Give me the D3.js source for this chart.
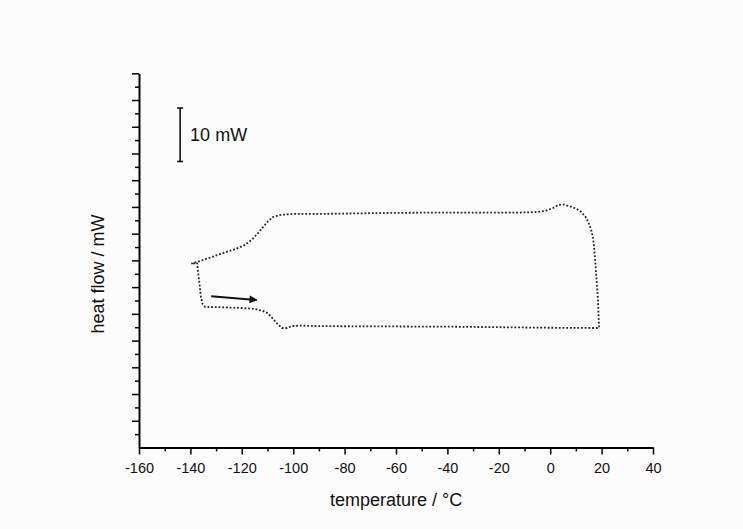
<!DOCTYPE html>
<html>
<head>
<meta charset="utf-8">
<script src="https://cdn.jsdelivr.net/npm/d3@7"></script>
<style>
body { margin: 0; background: #fcfcfc; }
svg { display: block; font-family: "Liberation Sans", Arial, sans-serif; }
</style>
</head>
<body>
<svg id="chart"></svg>
<script>
// DSC loop: temperature in °C, heat flow in mW (arbitrary offset)
const temperature = [-137.4, -136.85, -136.3, -135.9, -135.3, -134.3, -128.5, -120.7, -115.5, -112.1,
  -109.8, -107.9, -106.3, -104.4, -102.4, -100.5, -97.4, -89.6, -39, 0, 18.6, 19.0,
  18.9, 18.6, 18.2, 17.8, 17.2, 16.7, 15.9, 14.9, 13.7, 12.0, 10.0, 7.7, 5.4, 3.4, 1.1,
  -1.6, -4.7, -11.8, -39, -58.4, -89.6, -100, -105.1, -107.9, -109.8, -111.8, -113.7,
  -116.0, -118.8, -122, -125.9, -130.4, -134.3, -137.4, -139.6, -139.0, -138.2];
const heatFlow = [34.6, 32.2, 29.9, 28.1, 26.9, 26.3, 26.25, 26.1, 25.95, 25.6,
  25.1, 24.1, 23.2, 22.35, 22.35, 22.7, 22.8, 22.7, 22.6, 22.4, 22.35, 22.4,
  23.7, 27.5, 30.3, 33.1, 36.9, 39.1, 40.8, 42.1, 43.2, 44.1, 44.7, 45.1, 45.45, 45.4, 44.8,
  44.3, 44.05, 43.95, 43.95, 43.9, 43.7, 43.7, 43.5, 43.1, 42.3, 41.2, 40.1,
  38.9, 37.9, 37.2, 36.6, 35.85, 35.2, 34.7, 34.4, 34.6, 34.2];
const xTicks = [-160, -140, -120, -100, -80, -60, -40, -20, 0, 20, 40];
const scaleBar = {t: -144, from: 53.5, to: 63.5, label: "10 mW"};
const arrow = {t: [-131.9, -114.2], v: [28.3, 27.6]};

const W = 743, H = 529;
const margin = {top: 73.3, right: 90, bottom: 81.5, left: 139};

const svg = d3.select("#chart")
  .attr("width", W)
  .attr("height", H);

const x = d3.scaleLinear().domain([-160, 40]).range([margin.left, W - margin.right]);
const y = d3.scaleLinear().domain([0, 70]).range([H - margin.bottom, margin.top]);

// x axis: minor then major ticks
svg.append("g")
  .attr("transform", `translate(0,${y(0)})`)
  .call(d3.axisBottom(x).tickValues(d3.range(-150, 40, 20)).tickSize(4).tickFormat(""))
  .call(g => g.select(".domain").remove())
  .selectAll("line").attr("stroke-width", 1.5);

const xAxis = svg.append("g")
  .attr("transform", `translate(0,${y(0)})`)
  .call(d3.axisBottom(x).tickValues(xTicks).tickSize(7).tickSizeOuter(0).tickFormat(d => String(d)));
xAxis.select(".domain").attr("stroke-width", 2);
xAxis.selectAll("line").attr("stroke-width", 1.5);
xAxis.selectAll("text").attr("font-size", 14.5).attr("fill", "#111").attr("y", 0)
  .attr("dy", 0).attr("transform", "translate(0,25)");

// y axis: no labels
svg.append("g")
  .attr("transform", `translate(${x(-160)},0)`)
  .call(d3.axisLeft(y).tickValues(d3.range(2.5, 70, 5)).tickSize(4).tickFormat(""))
  .call(g => g.select(".domain").remove())
  .selectAll("line").attr("stroke-width", 1.5);

const yAxis = svg.append("g")
  .attr("transform", `translate(${x(-160)},0)`)
  .call(d3.axisLeft(y).tickValues(d3.range(5, 71, 5)).tickSize(7).tickSizeOuter(0).tickFormat(""));
yAxis.select(".domain").attr("stroke-width", 2);
yAxis.selectAll("line").attr("stroke-width", 1.5);

svg.append("text")
  .attr("x", 396)
  .attr("y", 506)
  .attr("text-anchor", "middle")
  .attr("font-size", 18)
  .attr("fill", "#111")
  .text("temperature / °C");

svg.append("text")
  .attr("transform", `translate(104,274) rotate(-90)`)
  .attr("text-anchor", "middle")
  .attr("font-size", 18)
  .attr("fill", "#111")
  .text("heat flow / mW");

// the loop
const pts = temperature.map((t, i) => [t, heatFlow[i]]);
svg.append("path")
  .datum(pts)
  .attr("fill", "none")
  .attr("stroke", "#222")
  .attr("stroke-width", 1.8)
  .attr("stroke-dasharray", "1.8,1.9")
  .attr("d", d3.line().x(d => x(d[0])).y(d => y(d[1])));

// scale bar
const sb = svg.append("g").attr("stroke", "#111").attr("stroke-width", 1.6);
sb.append("line").attr("x1", x(scaleBar.t)).attr("x2", x(scaleBar.t)).attr("y1", y(scaleBar.from)).attr("y2", y(scaleBar.to));
[scaleBar.from, scaleBar.to].forEach(v => {
  sb.append("line").attr("x1", x(scaleBar.t) - 3).attr("x2", x(scaleBar.t) + 3).attr("y1", y(v)).attr("y2", y(v));
});
svg.append("text")
  .attr("x", x(scaleBar.t) + 10)
  .attr("y", 141)
  .attr("font-size", 18)
  .attr("fill", "#111")
  .text(scaleBar.label);

// arrow
svg.append("defs").append("marker")
  .attr("id", "head")
  .attr("viewBox", "0 0 10 10")
  .attr("refX", 9).attr("refY", 5)
  .attr("markerWidth", 6).attr("markerHeight", 4)
  .attr("markerUnits", "strokeWidth")
  .attr("orient", "auto")
  .append("path").attr("d", "M0,0L10,5L0,10z").attr("fill", "#111");

svg.append("line")
  .attr("x1", x(arrow.t[0])).attr("y1", y(arrow.v[0]))
  .attr("x2", x(arrow.t[1])).attr("y2", y(arrow.v[1]))
  .attr("stroke", "#111")
  .attr("stroke-width", 2)
  .attr("marker-end", "url(#head)");
</script>
</body>
</html>
